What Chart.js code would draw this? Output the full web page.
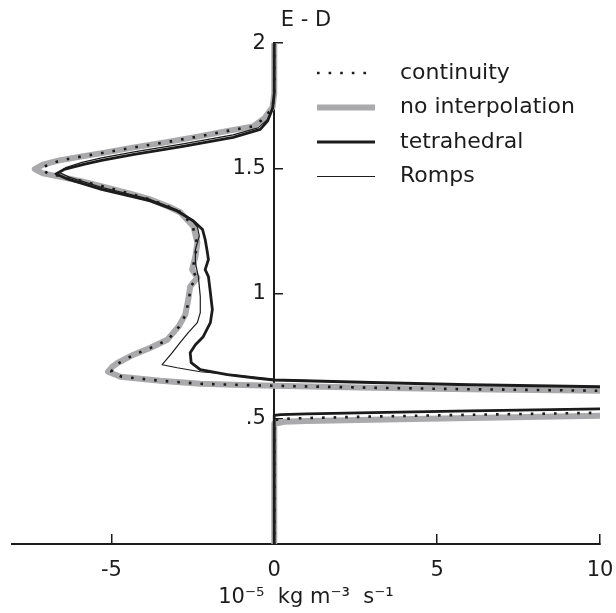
<!DOCTYPE html>
<html>
<head>
<meta charset="utf-8">
<script src="https://cdn.jsdelivr.net/npm/chart.js@4.4.1/dist/chart.umd.min.js"></script>
<style>
  html, body { margin: 0; padding: 0; background: #fff; }
  canvas { display: block; }
</style>
</head>
<body>
<canvas id="chart" width="616" height="613"></canvas>
<script>
// E - D profiles against height, x in 1e-5 kg m-3 s-1

const xTicks = [-5, 0, 5, 10];
const yTicks = [0.5, 1, 1.5, 2];
const yTickLabels = [".5", "1", "1.5", "2"];

const continuityX = [0, 0, -0.05, -0.3, -0.65, -1.5, -2.3, -3.3, -4.3, -5.2, -5.9, -6.55, -6.95, -7.15, -6.95, -6.5, -5.85, -5.15, -4.4, -3.8, -3.2, -2.85, -2.5, -2.38, -2.42, -2.52, -2.38, -2.56, -2.62, -2.72, -2.92, -3.26, -3.78, -4.3, -4.75, -4.92, -5.0, -4.68, -3.5, -2.27, -1.0, 0, 3, 6, 10, 13, 13, 10, 6, 3, 1, 0.3, 0, 0];
const continuityY = [2, 1.8, 1.745, 1.7, 1.668, 1.648, 1.628, 1.605, 1.584, 1.563, 1.548, 1.532, 1.515, 1.497, 1.48, 1.467, 1.448, 1.425, 1.398, 1.376, 1.345, 1.324, 1.268, 1.204, 1.148, 1.096, 1.064, 1.028, 0.976, 0.916, 0.868, 0.816, 0.784, 0.756, 0.724, 0.708, 0.688, 0.668, 0.652, 0.64, 0.635, 0.632, 0.624, 0.618, 0.612, 0.6, 0.51, 0.524, 0.516, 0.509, 0.503, 0.5, 0.495, 0];

const noInterpX = [0, 0, -0.05, -0.3, -0.65, -1.5, -2.3, -3.3, -4.3, -5.2, -5.9, -6.6, -7.1, -7.35, -7.1, -6.6, -5.9, -5.2, -4.4, -3.8, -3.2, -2.88, -2.48, -2.36, -2.42, -2.52, -2.36, -2.58, -2.64, -2.73, -2.94, -3.28, -3.8, -4.32, -4.8, -4.97, -5.1, -4.72, -3.5, -2.27, -1.0, 0, 3, 6, 10, 13, 13, 10, 6, 3, 1, 0.3, 0, 0];
const noInterpY = [2, 1.8, 1.745, 1.7, 1.668, 1.648, 1.628, 1.605, 1.584, 1.563, 1.548, 1.532, 1.515, 1.497, 1.48, 1.467, 1.448, 1.425, 1.398, 1.376, 1.345, 1.324, 1.268, 1.204, 1.148, 1.096, 1.064, 1.028, 0.976, 0.916, 0.868, 0.816, 0.784, 0.756, 0.724, 0.708, 0.688, 0.668, 0.652, 0.64, 0.635, 0.632, 0.624, 0.618, 0.612, 0.6, 0.5, 0.512, 0.503, 0.496, 0.491, 0.488, 0.48, 0];

const tetraX = [0, 0, -0.05, -0.2, -0.43, -1.26, -2.8, -4.3, -5.3, -5.85, -6.45, -6.7, -6.35, -5.3, -3.8, -2.98, -2.48, -2.2, -2.12, -2.06, -2.02, -2.12, -2.02, -1.96, -1.9, -1.96, -2.18, -2.42, -2.58, -2.55, -2.27, -1.44, -0.5, 0, 3, 6, 10, 13, 13, 10, 6, 3, 1, 0.2, 0, 0];
const tetraY = [2, 1.8, 1.74, 1.69, 1.656, 1.624, 1.588, 1.556, 1.532, 1.516, 1.496, 1.478, 1.458, 1.416, 1.37, 1.33, 1.29, 1.256, 1.216, 1.17, 1.136, 1.096, 1.068, 1.004, 0.936, 0.884, 0.828, 0.796, 0.764, 0.724, 0.696, 0.676, 0.662, 0.655, 0.645, 0.636, 0.628, 0.62, 0.546, 0.54, 0.532, 0.525, 0.52, 0.517, 0.514, 0];

const rompsX = [0, 0, -0.05, -0.2, -0.5, -1.26, -2.8, -4.3, -5.3, -5.9, -6.4, -6.6, -6.3, -5.3, -3.8, -3.0, -2.55, -2.36, -2.3, -2.42, -2.42, -2.33, -2.27, -2.27, -2.36, -2.64, -2.94, -3.13, -3.44, -2.98, -2.27, -1.26, -0.5, 0, 3, 6, 10, 13, 13, 10, 6, 3, 1, 0.2, 0, 0];
const rompsY = [2, 1.8, 1.745, 1.695, 1.662, 1.634, 1.598, 1.566, 1.542, 1.524, 1.503, 1.484, 1.465, 1.424, 1.376, 1.336, 1.296, 1.266, 1.23, 1.176, 1.124, 1.068, 0.988, 0.924, 0.884, 0.844, 0.796, 0.764, 0.716, 0.704, 0.688, 0.676, 0.664, 0.658, 0.645, 0.636, 0.628, 0.62, 0.546, 0.54, 0.532, 0.525, 0.52, 0.517, 0.514, 0];

const pts = (xs, ys) => xs.map((x, i) => ({x: x, y: ys[i]}));

const ink = "#1c1c1c";
const fontFamily = "'DejaVu Sans', sans-serif";

// legend drawn by hand in the upper right of the plot
const legendBox = {
    id: "legendBox",
    afterDraw(chart) {
        const ctx = chart.ctx;
        chart.data.datasets.forEach((ds, i) => {
            const y = 73 + i * 34.5;
            ctx.save();
            ctx.strokeStyle = ds.borderColor;
            ctx.lineWidth = ds.borderWidth;
            ctx.setLineDash(ds.borderDash || []);
            ctx.beginPath();
            ctx.moveTo(317, y);
            ctx.lineTo(ds.borderDash ? 372 : 375, y);
            ctx.stroke();
            ctx.setLineDash([]);
            ctx.fillStyle = ink;
            ctx.font = "22px " + fontFamily;
            ctx.textBaseline = "middle";
            ctx.fillText(ds.label, 400, y);
            ctx.restore();
        });
    }
};

new Chart(document.getElementById("chart"), {
    type: "scatter",
    data: {
        datasets: [
            { label: "continuity",
              data: pts(continuityX, continuityY),
              borderColor: ink,
              borderWidth: 2.6,
              borderDash: [2.6, 9],
              order: 0 },
            { label: "no interpolation",
              data: pts(noInterpX, noInterpY),
              borderColor: "#aaaaac",
              borderWidth: 6,
              order: 3 },
            { label: "tetrahedral",
              data: pts(tetraX, tetraY),
              borderColor: ink,
              borderWidth: 2.8,
              order: 2 },
            { label: "Romps",
              data: pts(rompsX, rompsY),
              borderColor: ink,
              borderWidth: 1.2,
              order: 1 }
        ]
    },
    options: {
        responsive: false,
        animation: false,
        showLine: true,
        elements: {
            point: { radius: 0, hoverRadius: 0 },
            line: { tension: 0, borderJoinStyle: "round", fill: false }
        },
        layout: { padding: { left: 12, right: 16, top: 8, bottom: 0 } },
        plugins: {
            legend: { display: false },
            tooltip: { enabled: false },
            title: {
                display: true,
                text: "E - D",
                color: ink,
                font: { family: fontFamily, size: 21, weight: "normal" },
                padding: { top: 0, bottom: 10 }
            }
        },
        scales: {
            x: {
                type: "linear",
                min: -8.05,
                max: 10,
                afterBuildTicks: s => { s.ticks = xTicks.map(v => ({value: v})); },
                // fixed height, and no extra room taken for the "10" label
                afterFit: s => { s.height = 69; s.paddingRight = 0; s.paddingLeft = 0; },
                ticks: {
                    color: ink,
                    font: { family: fontFamily, size: 21 },
                    padding: 24,
                    maxRotation: 0
                },
                grid: { drawOnChartArea: false, drawTicks: true, tickLength: -10, color: ink, lineWidth: 1.5 },
                border: { display: true, color: ink, width: 2 },
                title: {
                    display: true,
                    text: "10\u207B\u2075  kg m\u207B\u00B3  s\u207B\u00B9",
                    color: ink,
                    font: { family: fontFamily, size: 21 },
                    padding: { top: 0, bottom: 3 }
                }
            },
            y: {
                type: "linear",
                min: 0,
                max: 2,
                position: { x: 0 },
                afterBuildTicks: s => { s.ticks = yTicks.map(v => ({value: v})); },
                afterFit: s => { s.width = 0; },
                ticks: {
                    color: ink,
                    font: { family: fontFamily, size: 21 },
                    // labels sit flush on the axis here, thin spaces push them off it
                    callback: v => yTickLabels[yTicks.indexOf(v)] + "\u2009\u2009"
                },
                grid: { drawOnChartArea: false, drawTicks: true, tickLength: -10, color: ink, lineWidth: 1.5 },
                border: { display: true, color: ink, width: 2 }
            }
        }
    },
    plugins: [legendBox]
});
</script>
</body>
</html>
